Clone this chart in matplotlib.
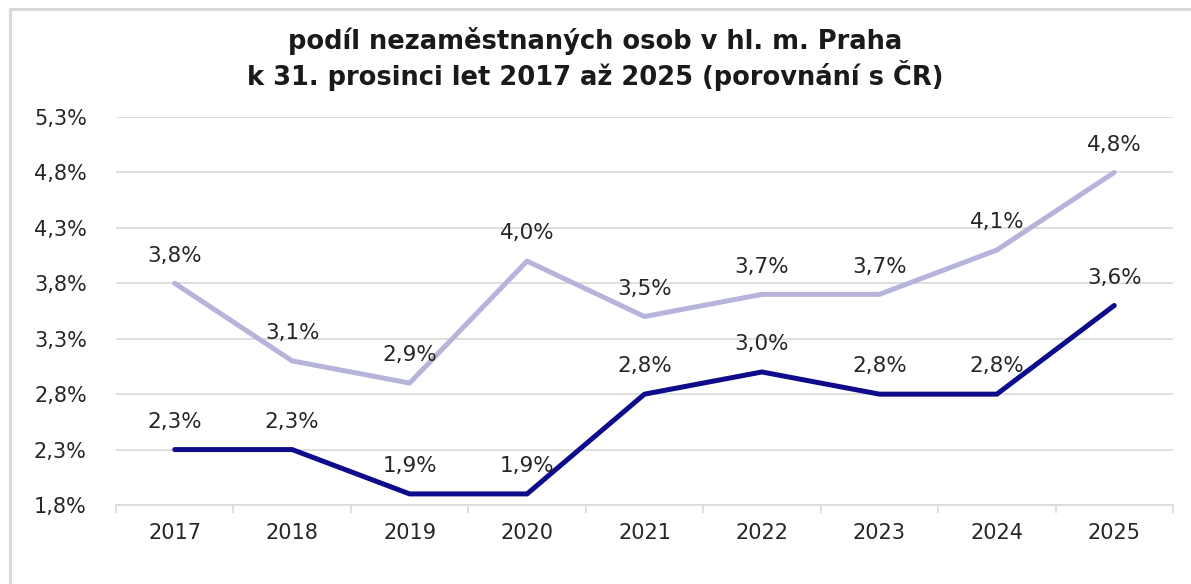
import matplotlib
matplotlib.use("Agg")
import matplotlib.pyplot as plt
from matplotlib.ticker import FuncFormatter, FixedLocator
from matplotlib.lines import Line2D

years = ["2017", "2018", "2019", "2020", "2021", "2022", "2023", "2024", "2025"]
cr_values = [3.8, 3.1, 2.9, 4.0, 3.5, 3.7, 3.7, 4.1, 4.8]
praha_values = [2.3, 2.3, 1.9, 1.9, 2.8, 3.0, 2.8, 2.8, 3.6]
y_ticks = [1.8, 2.3, 2.8, 3.3, 3.8, 4.3, 4.8, 5.3]
title_text = "podíl nezaměstnaných osob v hl. m. Praha\nk 31. prosinci let 2017 až 2025 (porovnání s ČR)"

font = ["DejaVu Sans"]

fig = plt.figure(figsize=(11.91, 5.84), dpi=100)
fig.patch.set_facecolor("white")

# frame lines (top and left)
fx = 9.5 / 1191
fy = 1 - 8.5 / 584
fig.add_artist(Line2D([fx, fx], [0, fy], transform=fig.transFigure,
                      color="#d9d9d9", lw=2.2))
fig.add_artist(Line2D([fx, 1], [fy, fy], transform=fig.transFigure,
                      color="#d9d9d9", lw=2.2))

ax = fig.add_axes([116/1191, 1 - 505/584, (1173 - 116)/1191, (505 - 117)/584])
x = list(range(len(years)))

ax.plot(x, cr_values, color="#b7b4dc", lw=3.6, solid_capstyle="round", zorder=3)
ax.plot(x, praha_values, color="#0f0c8c", lw=3.6, solid_capstyle="round", zorder=4)

def pct(v):
    return f"{v:.1f}%".replace(".", ",")

for series in (cr_values, praha_values):
    for xi, v in zip(x, series):
        ax.annotate(pct(v), (xi, v), xytext=(0, 20), textcoords="offset points",
                    ha="center", va="center", fontsize=15.5, family=font,
                    color="#262626", zorder=5)

ax.set_xlim(-0.5, len(years) - 0.5)
ax.set_ylim(1.8, 5.3)
ax.set_yticks(y_ticks)
ax.yaxis.set_major_formatter(FuncFormatter(lambda v, p: pct(v)))
ax.grid(axis="y", color="#d9d9d9", lw=1.2, zorder=0)
ax.set_axisbelow(True)

ax.set_xticks(x)
ax.set_xticklabels(years)
ax.xaxis.set_minor_locator(FixedLocator([i - 0.5 for i in range(len(years) + 1)]))
ax.tick_params(axis="x", which="major", length=0, pad=13)
ax.tick_params(axis="x", which="minor", length=6, color="#d9d9d9", width=1.2)
ax.tick_params(axis="y", length=0, pad=21)

for lab in ax.get_xticklabels() + ax.get_yticklabels():
    lab.set_family(font)
    lab.set_fontsize(15)
    lab.set_color("#262626")

for s in ["top", "right", "left"]:
    ax.spines[s].set_visible(False)
ax.spines["bottom"].set_color("#d9d9d9")
ax.spines["bottom"].set_linewidth(1.2)

fig.text(0.5, 1 - 59/584, title_text, ha="center", va="center", fontsize=18.5,
         fontweight="bold", family=font, color="#1a1a1a", linespacing=1.2)

fig.savefig("out.png", dpi=100, facecolor="white")
